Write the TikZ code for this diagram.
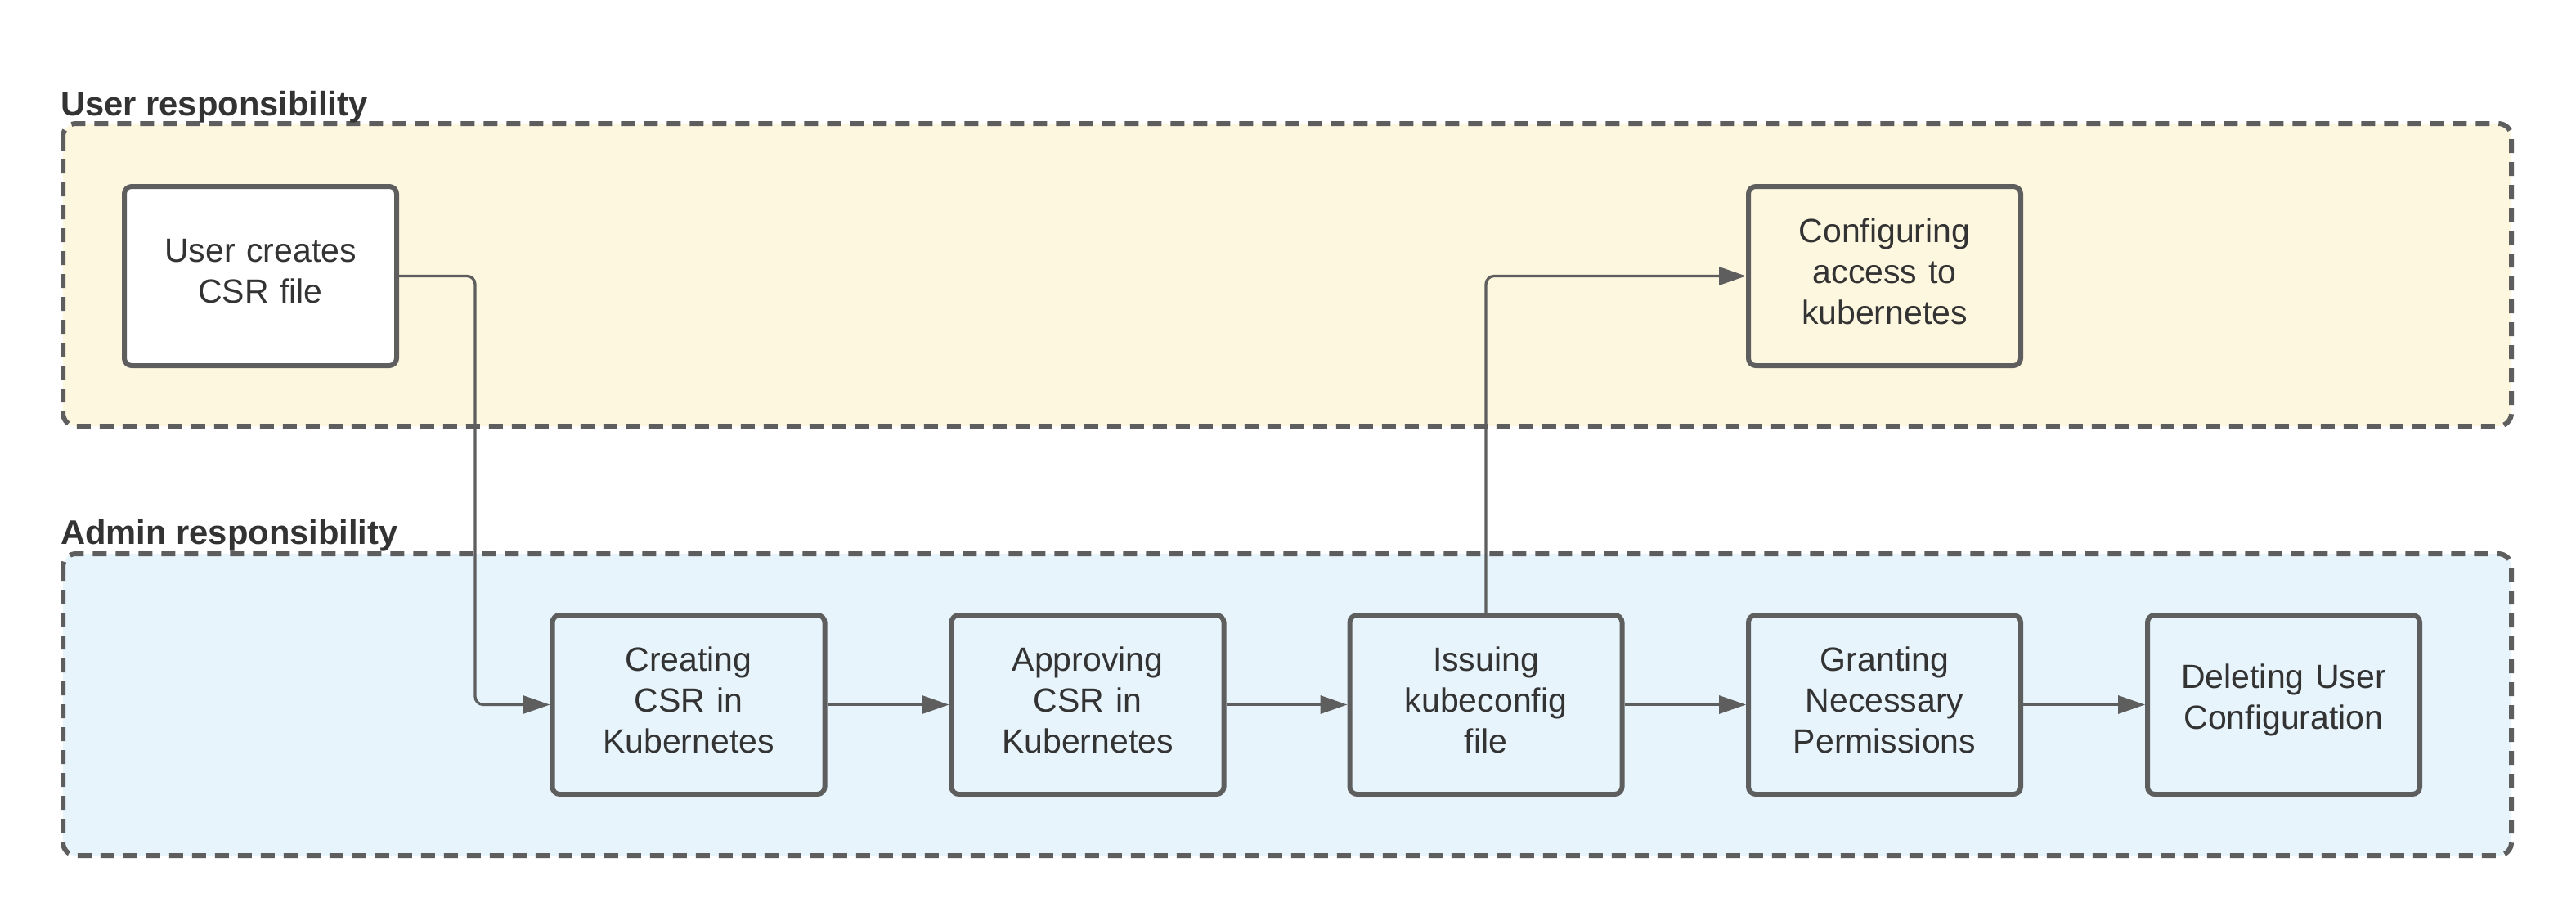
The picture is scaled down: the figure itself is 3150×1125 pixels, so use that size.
\documentclass[tikz,border=0pt]{standalone}
\usepackage{fontspec}
\setmainfont{Liberation Sans}
\usetikzlibrary{arrows.meta}
\definecolor{linegray}{HTML}{5E5E5E}
\definecolor{txt}{HTML}{333333}
\definecolor{yel}{HTML}{FEF7E0}
\definecolor{blu}{HTML}{E7F4FC}
\newcommand{\procpad}{\endgraf\kern12pt}
\begin{document}
\begin{tikzpicture}[x=1pt,y=-1pt,
  container/.style={draw=linegray, line width=6pt, dash pattern=on 17pt off 11pt, rounded corners=16pt},
  proc/.style={draw=linegray, line width=6pt, rounded corners=9pt, minimum width=333pt, minimum height=219pt,
    text width=325pt, align=center, font=\fontsize{41}{50}\selectfont, text=txt, inner sep=0pt,
    execute at end node=\procpad},
  conn/.style={draw=linegray, line width=3.3pt, rounded corners=10pt, -{Triangle[length=33pt,width=22pt]}},
  lbl/.style={font=\fontsize{41.7}{50}\selectfont\bfseries, text=txt, anchor=base west, inner sep=0pt}]
\useasboundingbox (0,0) rectangle (3150,1125);
\fill[white] (0,0) rectangle (3150,1125);
% lanes
\draw[container, fill=yel] (77,151) rectangle (3071,521);
\draw[container, fill=blu] (77,677) rectangle (3071,1046);
\node[lbl] (ulbl) at (74,141) {User responsibility};
\node[lbl] (albl) at (74,665) {Admin responsibility};
% boxes
\node[proc, fill=white] (u) at (318.5,337.5) {User creates\\CSR file};
\node[proc, fill=yel] (cfg) at (2304.5,337.5) {Configuring\\access to\\kubernetes};
\node[proc, fill=blu] (c1) at (842,861.5) {Creating\\CSR in\\Kubernetes};
\node[proc, fill=blu] (c2) at (1330,861.5) {Approving\\CSR in\\Kubernetes};
\node[proc, fill=blu] (c3) at (1817,861.5) {Issuing\\kubeconfig\\file};
\node[proc, fill=blu] (c4) at (2304.5,861.5) {Granting\\Necessary\\Permissions};
\node[proc, fill=blu] (c5) at (2792.5,861.5) {Deleting User\\Configuration};
% connectors
\draw[conn] (u.east) -- ++(93,0) |- (c1.west);
\draw[conn] (c3.north) |- (cfg.west);
\draw[conn] (c1) -- (c2);
\draw[conn] (c2) -- (c3);
\draw[conn] (c3) -- (c4);
\draw[conn] (c4) -- (c5);
\end{tikzpicture}
\end{document}
